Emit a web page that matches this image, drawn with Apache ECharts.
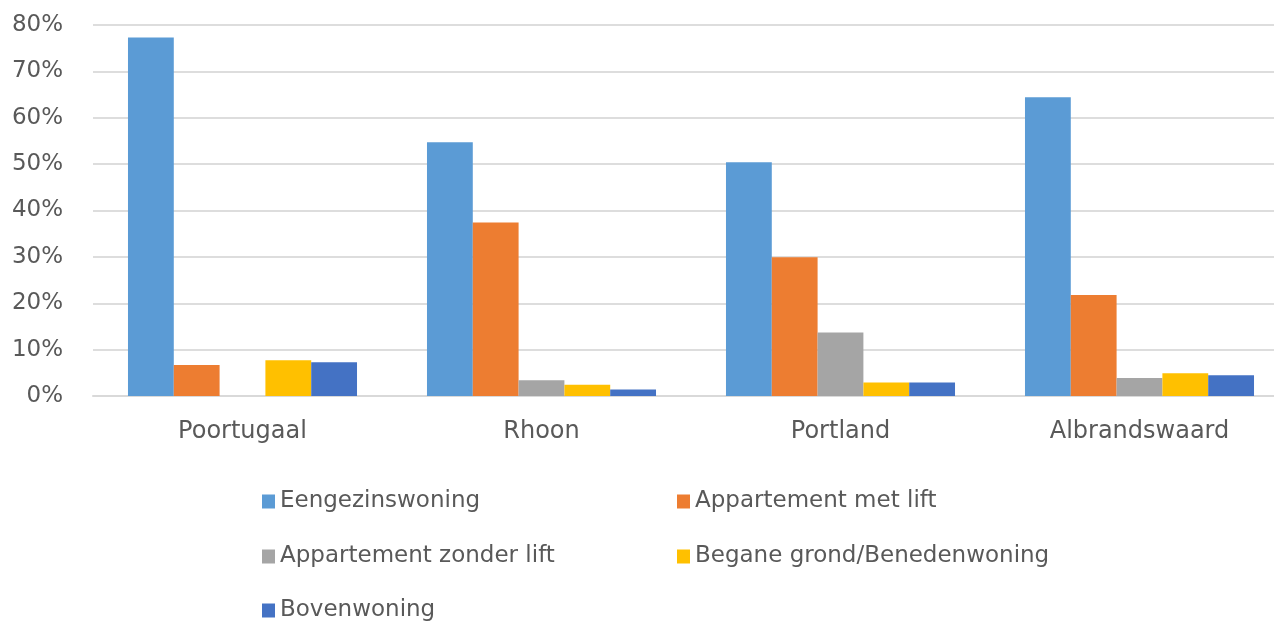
<!DOCTYPE html>
<html>
<head>
<meta charset="utf-8">
<script src="https://cdn.jsdelivr.net/npm/echarts@6/dist/echarts.min.js"></script>
<style>
  html, body { margin: 0; padding: 0; background: #fff; }
  #chart { width: 1274px; height: 628px; }
</style>
</head>
<body>
<div id="chart"></div>
<script>
  // 数据
  var categories = ['Poortugaal', 'Rhoon', 'Portland', 'Albrandswaard'];
  var seriesNames = ['Eengezinswoning', 'Appartement met lift', 'Appartement zonder lift', 'Begane grond/Benedenwoning', 'Bovenwoning'];
  var eengezins = [77.3, 54.7, 50.4, 64.4];
  var metLift = [6.7, 37.4, 29.9, 21.8];
  var zonderLift = [0, 3.4, 13.7, 3.9];
  var begane = [7.7, 2.4, 2.9, 4.9];
  var boven = [7.3, 1.4, 2.9, 4.5];
  var yTicks = [0, 10, 20, 30, 40, 50, 60, 70, 80];

  var colors = ['#5B9BD5', '#ED7D31', '#A5A5A5', '#FFC000', '#4472C4'];
  var values = [eengezins, metLift, zonderLift, begane, boven];
  var textColor = '#595959';
  var fontFamily = '"DejaVu Sans", sans-serif';

  // 图例位置 (marker left, top)
  var legendPos = [[262, 490], [677, 490], [262, 545], [677, 545], [262, 599]];

  var chart = echarts.init(document.getElementById('chart'));
  var option = {
    animation: false,
    color: colors,
    textStyle: { fontFamily: fontFamily },
    grid: { left: 93, top: 25, width: 1196, height: 371, outerBoundsMode: 'none' },
    legend: seriesNames.map(function (name, i) {
      return {
        data: [name],
        left: legendPos[i][0],
        top: legendPos[i][1],
        padding: 0,
        itemWidth: 13,
        itemHeight: 14,
        icon: 'rect',
        itemGap: 0,
        textStyle: { color: textColor, fontSize: 23, fontFamily: fontFamily }
      };
    }),
    xAxis: {
      type: 'category',
      data: categories,
      axisLine: { lineStyle: { color: '#D9D9D9', width: 2 } },
      axisTick: { show: false },
      axisLabel: { color: textColor, fontSize: 24, margin: 24 }
    },
    yAxis: {
      type: 'value',
      min: yTicks[0],
      max: yTicks[yTicks.length - 1],
      interval: 10,
      axisLine: { show: false },
      axisTick: { show: false },
      axisLabel: { color: textColor, fontSize: 23, margin: 30, formatter: '{value}%' },
      splitLine: { lineStyle: { color: '#DDDDDD', width: 2 } }
    },
    series: seriesNames.map(function (name, i) {
      return {
        name: name,
        type: 'bar',
        data: values[i],
        barGap: '0%',
        barCategoryGap: '23.4%'
      };
    })
  };
  chart.setOption(option);
</script>
</body>
</html>
